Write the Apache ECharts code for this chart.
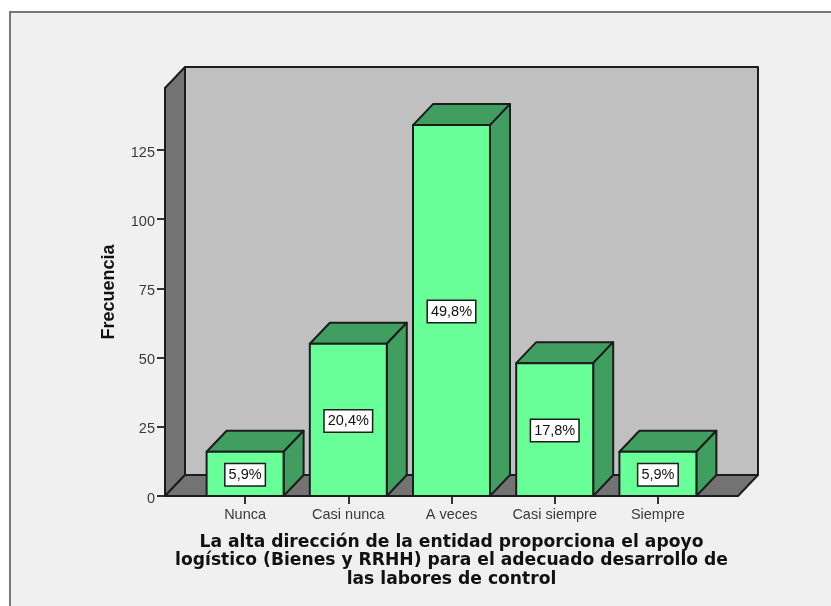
<!DOCTYPE html>
<html>
<head>
<meta charset="utf-8">
<style>html,body{margin:0;padding:0;background:#fff}#chart{width:831px;height:606px}</style>
<script src="https://cdn.jsdelivr.net/npm/echarts@6/dist/echarts.min.js"></script>
</head>
<body>
<div id="chart"></div>
<script>
// Response categories and their frequencies
const categories = ['Nunca', 'Casi nunca', 'A veces', 'Casi siempre', 'Siempre'];
const frequencies = [16, 55, 134, 48, 16];
const percentLabels = ['5,9%', '20,4%', '49,8%', '17,8%', '5,9%'];
const yTicks = [0, 25, 50, 75, 100, 125];
const yMax = 147.4;
const xTitle = 'La alta dirección de la entidad proporciona el apoyo\nlogístico (Bienes y RRHH) para el adecuado desarrollo de\nlas labores de control';
const yTitle = 'Frecuencia';

// Pseudo-3D depth of the box and its bars, in pixels
const DEPTH_X = 20;
const DEPTH_Y = 21;
// Distance from the first and last category band to the floor edges
const FLOOR_PAD = 28.5;

const INK = '#1c1c1c';
const FRONT = '#69FF98';
const SHADE = '#3F9E60';
const WALL_DARK = '#737373';
const WALL_BACK = '#C0C0C0';
const BAR_WIDTH_RATIO = 0.746;

function face(points, fill) {
  return {
    type: 'polygon',
    shape: { points: points },
    style: { fill: fill, stroke: INK, lineWidth: 2, lineJoin: 'round' }
  };
}

// Left wall, back wall and floor of the box
function renderWalls(params) {
  const c = params.coordSys;
  const l = c.x - FLOOR_PAD, r = c.x + c.width + FLOOR_PAD;
  const t = c.y, b = c.y + c.height;
  const dx = DEPTH_X, dy = DEPTH_Y;
  return {
    type: 'group',
    children: [
      face([[l + dx, t - dy], [r + dx, t - dy], [r + dx, b - dy], [l + dx, b - dy]], WALL_BACK),
      face([[l, t], [l + dx, t - dy], [l + dx, b - dy], [l, b]], WALL_DARK),
      face([[l, b], [l + dx, b - dy], [r + dx, b - dy], [r, b]], WALL_DARK)
    ]
  };
}

// One extruded bar with its percentage tag in the middle of the front face
function renderBar(params, api) {
  const i = api.value(0);
  const v = api.value(1);
  const top = api.coord([i, v]);
  const base = api.coord([i, 0]);
  const w = api.size([1, 0])[0] * BAR_WIDTH_RATIO;
  const l = top[0] - w / 2, r = top[0] + w / 2;
  const t = top[1], b = base[1];
  const dx = DEPTH_X, dy = DEPTH_Y;
  return {
    type: 'group',
    children: [
      face([[l, t], [l + dx, t - dy], [r + dx, t - dy], [r, t]], SHADE),
      face([[r, t], [r + dx, t - dy], [r + dx, b - dy], [r, b]], SHADE),
      face([[l, t], [r, t], [r, b], [l, b]], FRONT),
      {
        type: 'text',
        x: top[0],
        y: (t + b) / 2 + 1,
        style: {
          text: percentLabels[params.dataIndex],
          align: 'center',
          verticalAlign: 'middle',
          fontFamily: 'Liberation Sans',
          fontSize: 14.5,
          fill: '#111',
          backgroundColor: '#fff',
          borderColor: INK,
          borderWidth: 1.5,
          padding: [3, 3, 3, 3]
        }
      }
    ]
  };
}

const chart = echarts.init(document.getElementById('chart'), null, { renderer: 'canvas' });
chart.setOption({
  animation: false,
  backgroundColor: '#fff',
  graphic: [{
    type: 'rect',
    z: -1,
    shape: { x: 10, y: 12, width: 900, height: 700 },
    style: { fill: '#F0F0F0', stroke: '#777', lineWidth: 2 }
  }],
  grid: { left: 193.5, top: 88, width: 516, height: 408 },
  xAxis: {
    type: 'category',
    data: categories,
    axisLine: { show: false },
    axisTick: { show: true, interval: 0, alignWithLabel: true, length: 8, lineStyle: { color: '#333', width: 2 } },
    axisLabel: { interval: 0, margin: 11, fontFamily: 'Liberation Sans', fontSize: 14.5, color: '#3a3a3a' },
    name: xTitle,
    nameLocation: 'center',
    nameGap: 37,
    nameTextStyle: { fontFamily: 'DejaVu Sans', fontWeight: 'bold', fontSize: 17.15, color: '#111', lineHeight: 18.5, verticalAlign: 'top' }
  },
  yAxis: {
    type: 'value',
    min: 0,
    max: yMax,
    interval: 25,
    offset: FLOOR_PAD,
    splitLine: { show: false },
    axisLine: { show: false },
    axisTick: { show: true, length: 8, customValues: yTicks, lineStyle: { color: '#333', width: 2 } },
    axisLabel: {
      margin: 10,
      customValues: yTicks,
      // Tick numbers sit slightly below their tick marks
      formatter: '{n|{value}}',
      rich: {
        n: { fontFamily: 'Liberation Sans', fontSize: 14.5, color: '#3a3a3a', padding: [5, 0, 0, 0] }
      }
    },
    name: yTitle,
    nameLocation: 'center',
    nameGap: 47,
    nameTextStyle: { fontFamily: 'Liberation Sans', fontWeight: 'bold', fontSize: 18, color: '#111' }
  },
  series: [
    {
      type: 'custom',
      z: 1,
      silent: true,
      clip: false,
      renderItem: renderWalls,
      data: [[0, 0]]
    },
    {
      type: 'custom',
      z: 2,
      clip: false,
      renderItem: renderBar,
      encode: { x: 0, y: 1 },
      data: frequencies.map(function (v, i) { return [i, v]; })
    }
  ]
});
</script>
</body>
</html>
